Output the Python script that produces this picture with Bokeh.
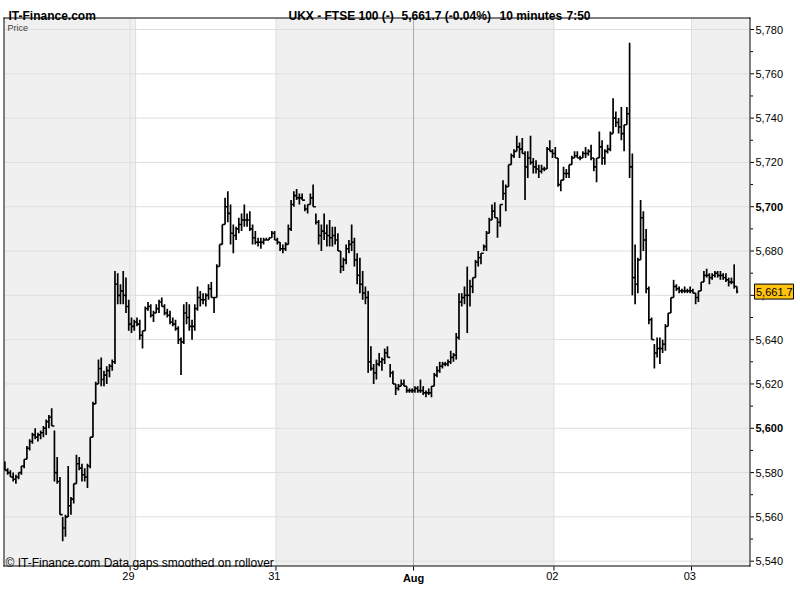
from bokeh.plotting import figure
from bokeh.models import Range1d
from bokeh.core.properties import value
from bokeh.embed import file_html
from bokeh.resources import INLINE

# ---------------- data (10-minute bars, UKX - FTSE 100) ----------------
bar_low = [
    5581, 5579, 5578, 5576, 5575, 5577, 5579, 5582, 5586, 5590,
    5593, 5595, 5594, 5595, 5596, 5597, 5600, 5601, 5576, 5575,
    5561, 5549, 5551, 5560, 5561, 5566, 5575, 5581, 5576, 5576,
    5573, 5582, 5596, 5611, 5620, 5619, 5619, 5620, 5623, 5626,
    5629, 5656, 5656, 5656, 5652, 5644, 5643, 5644, 5646, 5640,
    5636, 5644, 5653, 5650, 5648, 5652, 5652, 5655, 5651, 5650,
    5647, 5646, 5644, 5638, 5624, 5638, 5647, 5644, 5640, 5644,
    5653, 5655, 5656, 5655, 5658, 5659, 5652, 5659, 5673, 5683,
    5692, 5693, 5683, 5679, 5685, 5688, 5689, 5691, 5691, 5689,
    5683, 5683, 5682, 5681, 5683, 5685, 5685, 5686, 5685, 5683,
    5680, 5679, 5680, 5683, 5689, 5700, 5703, 5701, 5703, 5698,
    5697, 5701, 5700, 5692, 5683, 5680, 5685, 5682, 5682, 5682,
    5683, 5680, 5670, 5671, 5674, 5679, 5680, 5673, 5665, 5661,
    5658, 5656, 5625, 5626, 5620, 5622, 5628, 5626, 5629, 5632,
    5623, 5620, 5615, 5617, 5619, 5619, 5616, 5616, 5616, 5616,
    5616, 5616, 5615, 5614, 5615, 5614, 5619, 5623, 5625, 5627,
    5628, 5628, 5629, 5630, 5631, 5640, 5655, 5656, 5643, 5655,
    5661, 5668, 5673, 5674, 5680, 5680, 5688, 5694, 5695, 5686,
    5691, 5703, 5698, 5709, 5719, 5722, 5725, 5722, 5724, 5703,
    5713, 5719, 5715, 5715, 5713, 5715, 5716, 5717, 5725, 5722,
    5722, 5709, 5707, 5712, 5713, 5713, 5719, 5722, 5722, 5721,
    5722, 5722, 5723, 5721, 5716, 5711, 5722, 5719, 5719, 5724,
    5725, 5733, 5736, 5733, 5730, 5725, 5737, 5713, 5660, 5656,
    5661, 5676, 5680, 5661, 5647, 5640, 5627, 5632, 5629, 5634,
    5635, 5646, 5652, 5659, 5662, 5661, 5661, 5661, 5661, 5661,
    5661, 5656, 5657, 5662, 5666, 5668, 5665, 5667, 5668, 5668,
    5667, 5667, 5666, 5664, 5665, 5663, 5661,
]
bar_high = [
    5585, 5582, 5581, 5580, 5579, 5580, 5583, 5586, 5592, 5595,
    5598, 5600, 5598, 5599, 5601, 5604, 5606, 5609, 5599, 5587,
    5578, 5560, 5561, 5583, 5569, 5575, 5588, 5587, 5584, 5582,
    5584, 5596, 5612, 5621, 5631, 5632, 5626, 5628, 5629, 5631,
    5671, 5670, 5665, 5671, 5668, 5658, 5650, 5649, 5650, 5649,
    5644, 5655, 5657, 5656, 5653, 5656, 5658, 5659, 5656, 5654,
    5653, 5650, 5649, 5646, 5641, 5656, 5657, 5656, 5649, 5656,
    5664, 5662, 5661, 5661, 5665, 5666, 5659, 5674, 5683, 5692,
    5704, 5707, 5701, 5692, 5691, 5695, 5697, 5701, 5697, 5698,
    5692, 5689, 5686, 5686, 5686, 5686, 5686, 5689, 5689, 5686,
    5684, 5683, 5684, 5692, 5703, 5707, 5708, 5706, 5706, 5701,
    5701, 5706, 5710, 5697, 5694, 5692, 5697, 5692, 5694, 5691,
    5691, 5688, 5680, 5677, 5683, 5685, 5692, 5686, 5679, 5677,
    5671, 5664, 5662, 5637, 5629, 5631, 5634, 5632, 5636, 5637,
    5629, 5626, 5620, 5620, 5622, 5622, 5619, 5618, 5618, 5619,
    5619, 5622, 5619, 5617, 5618, 5619, 5625, 5628, 5630, 5630,
    5630, 5631, 5635, 5634, 5643, 5661, 5661, 5664, 5673, 5667,
    5668, 5676, 5680, 5679, 5683, 5689, 5695, 5701, 5702, 5695,
    5701, 5712, 5710, 5719, 5724, 5726, 5732, 5729, 5731, 5725,
    5725, 5732, 5722, 5721, 5719, 5719, 5718, 5727, 5730, 5726,
    5727, 5722, 5712, 5718, 5717, 5719, 5723, 5725, 5725, 5723,
    5725, 5727, 5726, 5728, 5722, 5722, 5734, 5730, 5726, 5728,
    5734, 5749, 5743, 5740, 5745, 5737, 5745, 5774, 5724, 5683,
    5677, 5703, 5698, 5690, 5664, 5650, 5638, 5641, 5641, 5640,
    5647, 5652, 5659, 5667, 5665, 5664, 5663, 5664, 5663, 5664,
    5663, 5661, 5662, 5666, 5671, 5672, 5670, 5670, 5671, 5671,
    5671, 5670, 5670, 5668, 5668, 5674, 5664,
]
bar_close = [
    5581, 5580, 5578, 5577, 5578, 5580, 5583, 5586, 5591, 5594,
    5597, 5596, 5597, 5598, 5600, 5603, 5605, 5601, 5580, 5576,
    5561, 5555, 5560, 5565, 5568, 5575, 5584, 5582, 5579, 5578,
    5583, 5596, 5611, 5620, 5627, 5622, 5624, 5626, 5628, 5630,
    5665, 5660, 5662, 5660, 5655, 5647, 5646, 5648, 5647, 5642,
    5644, 5654, 5655, 5651, 5652, 5654, 5657, 5655, 5652, 5651,
    5648, 5647, 5645, 5640, 5639, 5652, 5650, 5646, 5646, 5654,
    5659, 5658, 5658, 5660, 5663, 5659, 5659, 5673, 5683, 5692,
    5700, 5697, 5688, 5687, 5690, 5692, 5694, 5694, 5694, 5690,
    5686, 5684, 5684, 5684, 5685, 5685, 5686, 5688, 5685, 5684,
    5681, 5681, 5683, 5690, 5701, 5705, 5704, 5704, 5703, 5699,
    5701, 5704, 5700, 5693, 5687, 5689, 5688, 5687, 5686, 5687,
    5685, 5680, 5673, 5676, 5681, 5683, 5684, 5676, 5669, 5665,
    5661, 5659, 5630, 5627, 5625, 5629, 5630, 5631, 5634, 5632,
    5625, 5620, 5618, 5619, 5620, 5619, 5617, 5617, 5617, 5618,
    5617, 5617, 5616, 5616, 5616, 5619, 5624, 5626, 5628, 5629,
    5629, 5630, 5632, 5633, 5641, 5657, 5659, 5660, 5660, 5664,
    5668, 5675, 5677, 5679, 5682, 5688, 5694, 5698, 5695, 5693,
    5701, 5706, 5709, 5719, 5723, 5725, 5727, 5726, 5724, 5718,
    5722, 5720, 5718, 5717, 5716, 5717, 5717, 5726, 5725, 5724,
    5722, 5710, 5712, 5715, 5715, 5719, 5722, 5723, 5722, 5722,
    5724, 5724, 5725, 5722, 5718, 5722, 5727, 5722, 5725, 5726,
    5733, 5740, 5738, 5736, 5733, 5737, 5742, 5718, 5668, 5665,
    5676, 5695, 5685, 5663, 5649, 5640, 5634, 5636, 5636, 5638,
    5646, 5652, 5659, 5664, 5663, 5662, 5662, 5662, 5662, 5662,
    5661, 5659, 5662, 5666, 5669, 5669, 5668, 5669, 5670, 5669,
    5669, 5668, 5667, 5666, 5666, 5664, 5661.7,
]
bar_index = list(range(len(bar_low)))

day_labels = ["29", "31", "Aug", "02", "03"]
day_start_bar = [48, 99, 149, 200, 250]   # first bar of each labelled session
weekend_gap_bars = 2
price_ticks = list(range(5540, 5781, 20))

symbol = "UKX - FTSE 100 (-)"
last_price = 5661.7
change_pct = -0.04
interval_text = "10 minutes"
time_text = "7:50"

# ---------------- pixel <-> data helpers (layout only) ----------------
W, H = 800, 600
X0PX, XSCALE = 4.4, 2.752          # pixel of bar 0, pixels per bar
Y0PX, Y0VAL, YSCALE = 29.0, 5780.0, 2.2154


def xd(px):
    return (px - X0PX) / XSCALE


def yd(py):
    return Y0VAL - (py - Y0PX) / YSCALE


BOX_L, BOX_R, BOX_T, BOX_B = 3, 749, 17, 565   # frame line pixel rows/cols

p = figure(width=W, height=H, output_backend="svg", toolbar_location=None,
           x_range=Range1d(xd(0), xd(W)), y_range=Range1d(yd(H), yd(0)),
           x_axis_location=None, y_axis_location=None, min_border=0)
p.outline_line_color = None
p.background_fill_color = "white"
p.border_fill_color = "white"
p.grid.visible = False

FONT = value("Liberation Sans")
bounds = [s - 0.5 for s in day_start_bar]
in_l, in_r = xd(BOX_L + 1), xd(BOX_R)
in_t, in_b = yd(BOX_T + 1), yd(BOX_B)

# grey session bands
band_l = [in_l, bounds[1], bounds[4]]
band_r = [bounds[0], bounds[3], in_r]
p.quad(left=band_l, right=band_r, top=[in_t] * 3, bottom=[in_b] * 3,
       fill_color="#f0f0f0", line_color=None)

# horizontal grid
p.segment(x0=[in_l] * len(price_ticks), x1=[in_r] * len(price_ticks),
          y0=price_ticks, y1=price_ticks, line_color="#dedede", line_width=1)

# vertical separators
seps = [bounds[0] - weekend_gap_bars] + bounds
sep_col = ["#a9a9a9" if i == 3 else "#dedede" for i in range(len(seps))]
p.segment(x0=seps, x1=seps, y0=[in_t] * len(seps), y1=[in_b] * len(seps),
          line_color=sep_col, line_width=1)

# price bars: high-low line plus close tick running into the next bar
p.segment(x0=bar_index, x1=bar_index, y0=bar_low, y1=bar_high,
          line_color="black", line_width=1.7)
tick_end = [i + 1 if i + 1 < len(bar_index) else i + 0.45 for i in bar_index]
p.segment(x0=bar_index, x1=tick_end, y0=bar_close, y1=bar_close,
          line_color="black", line_width=1.6)

# frame
fx0 = [xd(BOX_L), xd(BOX_L), xd(BOX_L + 0.5), xd(BOX_R + 0.5)]
fx1 = [xd(BOX_R + 1), xd(BOX_R + 1), xd(BOX_L + 0.5), xd(BOX_R + 0.5)]
fy0 = [yd(BOX_T + 0.5), yd(BOX_B + 0.5), yd(BOX_T), yd(BOX_T)]
fy1 = [yd(BOX_T + 0.5), yd(BOX_B + 0.5), yd(BOX_B + 1), yd(BOX_B + 1)]
p.segment(x0=fx0, x1=fx1, y0=fy0, y1=fy1, line_color="black", line_width=1)

# right axis ticks
minor = list(range(5540, 5781, 10))
tick_x1 = [xd(BOX_R + 4.5) if v % 20 == 0 else xd(BOX_R + 3.5) for v in minor]
p.segment(x0=[xd(BOX_R + 1)] * len(minor), x1=tick_x1, y0=minor, y1=minor,
          line_color="black", line_width=1)
reg = [v for v in price_ticks if v % 100 != 0]
bold = [v for v in price_ticks if v % 100 == 0]
p.text(x=[xd(755)] * len(reg), y=reg, text=[f"{v:,}" for v in reg], text_font=FONT,
       text_font_size="11px", text_baseline="middle", text_align="left", text_color="black")
p.text(x=[xd(755)] * len(bold), y=bold, text=[f"{v:,}" for v in bold], text_font=FONT,
       text_font_size="11px", text_font_style="bold", text_baseline="middle",
       text_align="left", text_color="black")

# bottom axis ticks and labels
tick_pos = [bounds[0] - weekend_gap_bars] + bounds[1:]
p.segment(x0=tick_pos, x1=tick_pos, y0=[yd(BOX_B + 1)] * len(tick_pos),
          y1=[yd(BOX_B + 5)] * len(tick_pos), line_color="black", line_width=1)
reg_i = [i for i, l in enumerate(day_labels) if l.isdigit()]
bold_i = [i for i, l in enumerate(day_labels) if not l.isdigit()]
p.text(x=[tick_pos[i] - 0.6 for i in reg_i], y=[yd(571)] * len(reg_i),
       text=[day_labels[i] for i in reg_i], text_font=FONT, text_font_size="11px",
       text_baseline="top", text_align="center", text_color="black")
p.text(x=[tick_pos[i] for i in bold_i], y=[yd(571)] * len(bold_i),
       text=[day_labels[i] for i in bold_i], text_font=FONT, text_font_size="11px",
       text_font_style="bold", text_baseline="top", text_align="center", text_color="black")

# header
p.text(x=[xd(8)], y=[yd(15)], text=["IT-Finance.com"], text_font=FONT,
       text_font_size="12px", text_font_style="bold", text_baseline="alphabetic",
       text_color="black")
head = [symbol, f"{last_price:,.1f} ({change_pct:.2f}%)", interval_text, time_text]
head_px = [288, 401, 499, 566]
p.text(x=[xd(v) for v in head_px], y=[yd(15)] * 4, text=head, text_font=FONT,
       text_font_size="12px", text_font_style="bold", text_baseline="alphabetic",
       text_color="black")

p.text(x=[xd(7)], y=[yd(27)], text=["Price"], text_font=FONT, text_font_size="9px",
       text_baseline="alphabetic", text_color="#404040")
p.text(x=[xd(5)], y=[yd(562)], text=["\u00a9 IT-Finance.com  Data gaps smoothed on rollover"],
       text_font=FONT, text_font_size="12px", text_baseline="alphabetic", text_color="black")

# last price marker
half = 7.5 / YSCALE
p.quad(left=[xd(754)], right=[xd(793)], top=[last_price + half], bottom=[last_price - half],
       fill_color="#ffc20e", line_color="black", line_width=1)
p.text(x=[xd(755.5)], y=[last_price], text=[f"{last_price:,.1f}"], text_font=FONT,
       text_font_size="11px", text_baseline="middle", text_align="left", text_color="black")

open("out.html", "w").write(file_html(p, INLINE))
